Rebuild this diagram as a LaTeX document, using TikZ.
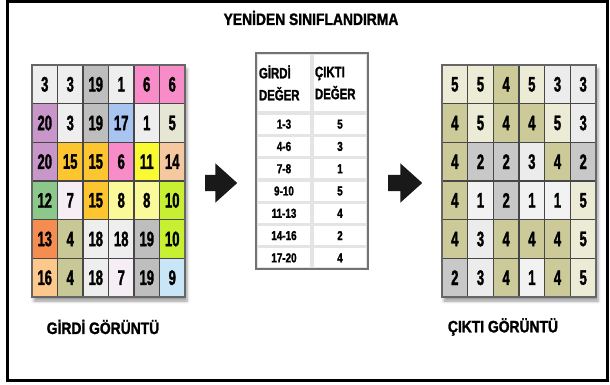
\documentclass[tikz,border=0pt]{standalone}
\usepackage{fontspec}
\setmainfont{Liberation Sans}
\newfontfamily\titlefont{Liberation Sans Bold}[FakeStretch=0.84,FakeBold=1.5]
\newfontfamily\gridfont{Liberation Sans Bold}[FakeStretch=0.62,FakeBold=1.5]
\newfontfamily\tabfont{Liberation Sans Bold}[FakeStretch=0.76,FakeBold=1.5]
\usetikzlibrary{shapes.arrows,shadows.blur}

% input classes
\definecolor{lg}{HTML}{EEEEEE}
\definecolor{gy}{HTML}{BEBEBE}
\definecolor{pk}{HTML}{F78CC8}
\definecolor{pu}{HTML}{C896C8}
\definecolor{lb}{HTML}{A8C4F0}
\definecolor{be}{HTML}{E6E6D4}
\definecolor{oy}{HTML}{FDC630}
\definecolor{ye}{HTML}{FAFA32}
\definecolor{pe}{HTML}{F5C8A0}
\definecolor{gr}{HTML}{8CC88C}
\definecolor{lp}{HTML}{F5EEF5}
\definecolor{ly}{HTML}{FAFA9A}
\definecolor{yg}{HTML}{C8F032}
\definecolor{og}{HTML}{F58C50}
\definecolor{ol}{HTML}{C8C896}
\definecolor{pc}{HTML}{FCC88C}
\definecolor{sb}{HTML}{C8E6F8}
% output classes
\definecolor{o1}{HTML}{F2F2F2}
\definecolor{o2}{HTML}{C8C8C8}
\definecolor{o3}{HTML}{ECECEC}
\definecolor{o4}{HTML}{CBCA98}
\definecolor{o5}{HTML}{ECECD6}
\definecolor{tabbg}{HTML}{E4E4E4}

\begin{document}
\begin{tikzpicture}[x=1pt, y=-1pt,
    cell/.style={draw=black!72, line width=1.4pt, minimum width=25.5pt,
      minimum height=38.67pt, inner sep=0pt,
      font=\gridfont\fontsize{21}{21}\selectfont},
    tcell/.style={fill=white, minimum width=52pt, minimum height=19pt,
      inner sep=0pt, font=\tabfont\fontsize{13}{13}\selectfont},
    hcell/.style={fill=white, minimum width=52pt, minimum height=56pt,
      inner xsep=1pt, text width=50pt, align=left,
      font=\tabfont\fontsize{15}{22}\selectfont},
    caption/.style={font=\titlefont\fontsize{16.5}{16.5}\selectfont},
    bigarrow/.style={single arrow, fill=black!90, inner xsep=0pt,
      inner ysep=8pt, single arrow head extend=11.5pt,
      single arrow tip angle=84}]
  \useasboundingbox (0,0) rectangle (610,385);
  % frame
  \draw[line width=3pt] (7,1.5) rectangle (607.5,380.5);
  \node[caption] (title) at (311,18) {YENİDEN SINIFLANDIRMA};

  % input image
  \fill[white, blur shadow={shadow xshift=2pt, shadow yshift=-4pt,
    shadow blur radius=3pt}] (32,65) rectangle (185,297);
  \foreach \row [count=\r] in {
      {3/lg,3/lg,19/gy,1/lg,6/pk,6/pk},
      {20/pu,3/lg,19/gy,17/lb,1/lg,5/be},
      {20/pu,15/oy,15/oy,6/pk,11/ye,14/pe},
      {12/gr,7/lp,15/oy,8/ly,8/ly,10/yg},
      {13/og,4/ol,18/lg,18/lg,19/gy,10/yg},
      {16/pc,4/ol,18/lg,7/lp,19/gy,9/sb}}{
    \foreach \v/\col [count=\c] in \row {
      \node[cell, fill=\col] (in-\r-\c) at ({32+(\c-0.5)*25.5},{65+(\r-0.5)*38.67}) {\v};
    }
  }
  \draw[black!60, line width=2pt] (32,65) rectangle (185,297);
  \node[caption] (lbl-in) at (103,327) {GİRDİ GÖRÜNTÜ};

  % lookup table
  \draw[fill=tabbg, draw=black!55, line width=1.5pt] (256,53) rectangle (368,269);
  \node[hcell] (hdr-in) at (284,83) {GİRDİ\\DEĞER};
  \node[hcell] (hdr-out) at (340,83) {ÇIKTI\\DEĞER};
  \foreach \a/\b [count=\k] in {1-3/5,4-6/3,7-8/1,9-10/5,11-13/4,14-16/2,17-20/4}{
    \node[tcell] (tin-\k) at (284,{113+(\k-0.5)*22.29}) {\a};
    \node[tcell] (tout-\k) at (340,{113+(\k-0.5)*22.29}) {\b};
  }

  \node[bigarrow, minimum height=32pt, anchor=tail] (arr-in) at (205,183) {};
  \node[bigarrow, minimum height=34pt, anchor=tail] (arr-out) at (388,183) {};

  % output image
  \fill[white, blur shadow={shadow xshift=2pt, shadow yshift=-4pt,
    shadow blur radius=3pt}] (442,65) rectangle (596,297);
  \foreach \row [count=\r] in {
      {5,5,4,5,3,3},
      {4,5,4,4,5,3},
      {4,2,2,3,4,2},
      {4,1,2,1,1,5},
      {4,3,4,4,4,5},
      {2,3,4,1,4,5}}{
    \foreach \v [count=\c] in \row {
      \node[cell, fill=o\v, minimum width=25.67pt] (out-\r-\c) at ({442+(\c-0.5)*25.67},{65+(\r-0.5)*38.67}) {\v};
    }
  }
  \draw[black!60, line width=2pt] (442,65) rectangle (596,297);
  \node[caption] (lbl-out) at (503,327) {ÇIKTI GÖRÜNTÜ};
\end{tikzpicture}
\end{document}
